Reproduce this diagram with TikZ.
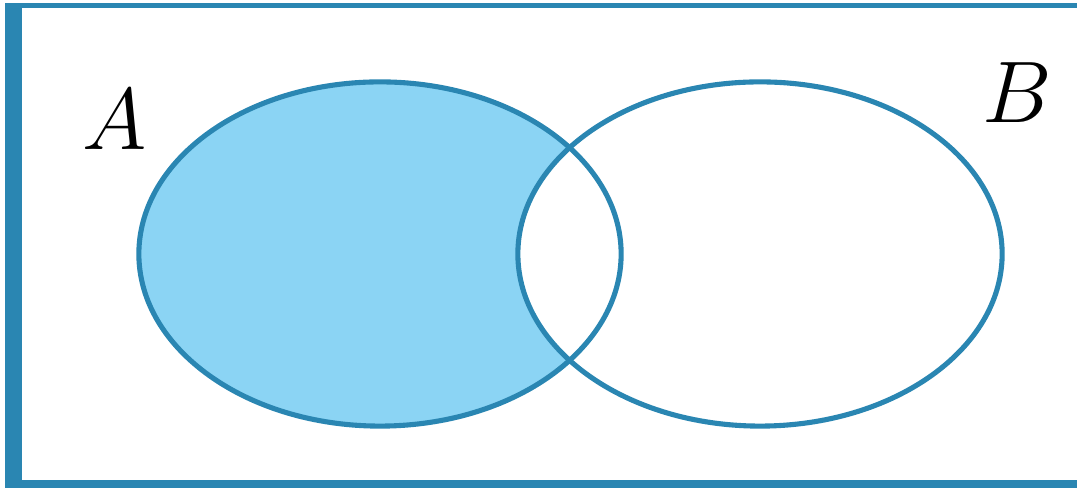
\documentclass[tikz,border=0pt]{standalone}
\usepackage{xcolor}
\usepackage{tikz}
\definecolor{setblue}{HTML}{2A86B2}
\definecolor{setfill}{HTML}{8BD4F4}

\begin{document}
\begin{tikzpicture}[x=0.01cm,y=0.01cm,
    setline/.style={draw=setblue,line width=1.45pt},
    setlabel/.style={font=\fontsize{23}{23}\selectfont}]
  \useasboundingbox (0,0) rectangle (1077,489);
  % frame, open on the right
  \fill[setblue] (5,1) rectangle (22,486);
  \fill[setblue] (5,481) rectangle (1077,486);
  \fill[setblue] (5,1) rectangle (1077,9);

  % A minus B shaded
  \fill[setfill] (380,235) ellipse [x radius=2.41cm,y radius=1.72cm];
  \fill[white] (760,235) ellipse [x radius=2.42cm,y radius=1.72cm];
  \draw[setline] (380,235) ellipse [x radius=2.41cm,y radius=1.72cm];
  \draw[setline] (760,235) ellipse [x radius=2.42cm,y radius=1.72cm];

  \node[setlabel] (labA) at (115,369) {$A$};
  \node[setlabel] (labB) at (1017,396) {$B$};
\end{tikzpicture}
\end{document}
